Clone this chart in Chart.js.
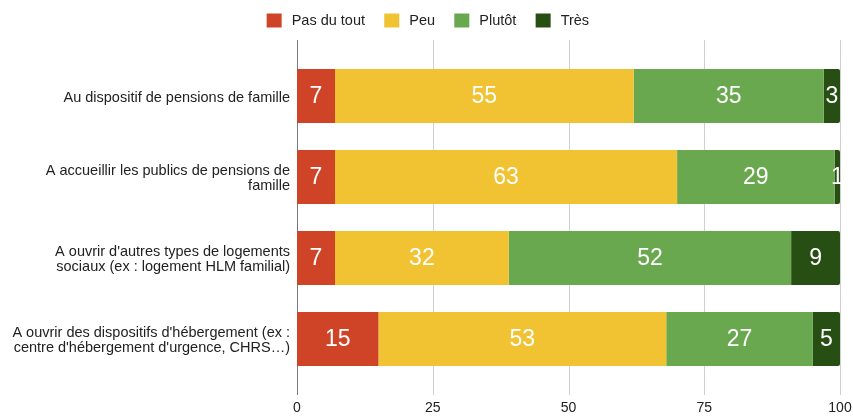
<!DOCTYPE html>
<html>
<head>
<meta charset="utf-8">
<script src="https://cdn.jsdelivr.net/npm/chart.js@4.4.1/dist/chart.umd.min.js"></script>
<style>
  html, body { margin: 0; padding: 0; background: #fff; }
  #wrap { width: 853px; height: 416px; position: relative; }
</style>
</head>
<body>
<div id="wrap"><canvas id="c" width="853" height="416"></canvas></div>
<script>
const categories = [
  "Au dispositif de pensions de famille",
  ["A accueillir les publics de pensions de", "famille"],
  ["A ouvrir d'autres types de logements", "sociaux (ex : logement HLM familial)"],
  ["A ouvrir des dispositifs d'hébergement (ex :", "centre d'hébergement d'urgence, CHRS…)"]
];
const seriesNames = ["Pas du tout", "Peu", "Plutôt", "Très"];
const pasDuTout = [7, 7, 7, 15];
const peu = [55, 63, 32, 53];
const plutot = [35, 29, 52, 27];
const tres = [3, 1, 9, 5];
const xTicks = [0, 25, 50, 75, 100];

const colors = ["#cf4427", "#f1c232", "#6aa84f", "#274e13"];
const FONT = "'Liberation Sans', Arial, sans-serif";
const LEGEND_HEIGHT = 61.25;

const legendSizePlugin = {
  id: 'legendSize',
  beforeLayout(chart) {
    const lg = chart.legend;
    if (lg && !lg._sizePatched) {
      const origFit = lg.fit;
      lg.fit = function () {
        origFit.call(this);
        this.height = LEGEND_HEIGHT;
      };
      lg._sizePatched = true;
    }
  }
};

const gridPlugin = {
  id: 'gridExt',
  beforeDatasetsDraw(chart) {
    const { ctx, chartArea, scales } = chart;
    const xs = scales.x;
    const top = chartArea.top - 15.5, bottom = chartArea.bottom + 15.5;
    ctx.save();
    xTicks.forEach(v => {
      const px = Math.round(xs.getPixelForValue(v)) + 0.5;
      ctx.beginPath();
      ctx.strokeStyle = v === 0 ? '#7a7a7a' : '#d0d0d0';
      ctx.lineWidth = 1;
      ctx.moveTo(px, top);
      ctx.lineTo(px, bottom);
      ctx.stroke();
    });
    ctx.restore();
  }
};

const labelPlugin = {
  id: 'valueLabels',
  afterDatasetsDraw(chart) {
    const { ctx, chartArea } = chart;
    ctx.save();
    ctx.beginPath();
    ctx.rect(chartArea.left, chartArea.top - 20, chartArea.right - chartArea.left + 1, chartArea.bottom - chartArea.top + 40);
    ctx.clip();
    ctx.fillStyle = '#ffffff';
    ctx.font = '23px ' + FONT;
    ctx.textAlign = 'center';
    ctx.textBaseline = 'middle';
    chart.data.datasets.forEach((ds, i) => {
      const meta = chart.getDatasetMeta(i);
      meta.data.forEach((el, j) => {
        const v = ds.data[j];
        const cx = (el.x + el.base) / 2;
        ctx.fillText(String(v), cx, el.y + 1);
      });
    });
    ctx.restore();
  }
};

const seriesData = [pasDuTout, peu, plutot, tres];

new Chart(document.getElementById('c'), {
  type: 'bar',
  data: {
    labels: categories,
    datasets: seriesNames.map((n, i) => ({
      label: n,
      data: seriesData[i],
      backgroundColor: colors[i],
      borderWidth: 0,
      borderRadius: i === 3 ? 2 : 0,
      barPercentage: 0.667,
      categoryPercentage: 1.0
    }))
  },
  options: {
    indexAxis: 'y',
    responsive: false,
    animation: false,
    devicePixelRatio: 1,
    layout: { padding: { top: -5.75, right: 0, bottom: 0, left: 0 } },
    plugins: {
      legend: {
        position: 'top',
        align: 'center',
        labels: {
          boxWidth: 20.5,
          boxHeight: 19.5,
          padding: 16.5,
          color: '#222',
          font: { family: FONT, size: 14.5 },
          generateLabels(chart) {
            const items = Chart.defaults.plugins.legend.labels.generateLabels(chart);
            items.forEach(it => { it.lineWidth = 5.5; it.strokeStyle = '#ffffff'; });
            return items;
          }
        }
      },
      tooltip: { enabled: false }
    },
    scales: {
      x: {
        stacked: true,
        min: 0,
        max: 100,
        afterBuildTicks(scale) { scale.ticks = xTicks.map(v => ({ value: v })); },
        afterFit(scale) { scale.paddingLeft = 0; scale.paddingRight = 13; scale.height = 36.5; },
        grid: { display: false, drawTicks: false },
        border: { display: false },
        ticks: {
          padding: 20,
          color: '#222',
          font: { family: FONT, size: 14 },
          maxRotation: 0
        }
      },
      y: {
        stacked: true,
        grid: { display: false, drawTicks: false },
        border: { display: false },
        afterFit(scale) { scale.width = 297; scale.paddingTop = 55.5; scale.paddingBottom = 36.5; },
        ticks: {
          padding: 7,
          labelOffset: 1.5,
          color: '#222',
          font: { family: FONT, size: 14.5, lineHeight: 1.0 }
        }
      }
    }
  },
  plugins: [legendSizePlugin, gridPlugin, labelPlugin]
});
</script>
</body>
</html>
